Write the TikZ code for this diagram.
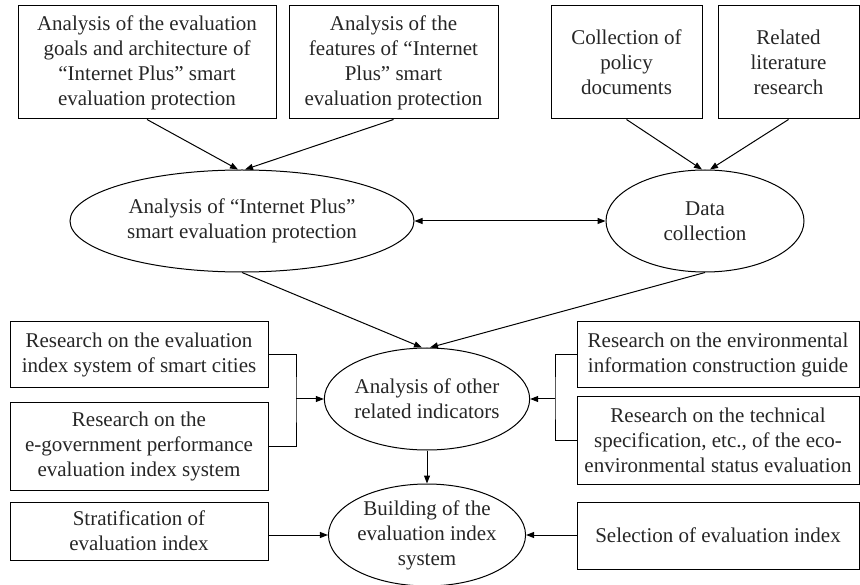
\documentclass[tikz,border=0pt]{standalone}
\usepackage{fontspec}
\setmainfont{Liberation Serif}
\usetikzlibrary{arrows.meta,shapes.geometric,calc}
\tikzset{
  base/.style={draw=black, line width=1pt, inner sep=0pt, align=center, text=black!85,
    font=\fontsize{21}{25}\selectfont},
  rbox/.style={base, rectangle},
  ebox/.style={base, ellipse},
  conn/.style={line width=1pt, draw=black},
  arr/.style={conn, -{Triangle[length=8pt,width=6pt]}},
  darr/.style={conn, {Triangle[length=8pt,width=6pt]}-{Triangle[length=8pt,width=6pt]}},
}
\begin{document}
\begin{tikzpicture}[x=1pt,y=-1pt]
\useasboundingbox (0,0) rectangle (860,585);
% top boxes
\node[rbox, minimum width=258pt, minimum height=113pt] (b1) at (147,62.5)
  {Analysis of the evaluation\\goals and architecture of\\“Internet Plus” smart\\evaluation protection};
\node[rbox, minimum width=209pt, minimum height=113pt] (b2) at (393.5,62.5)
  {Analysis of the\\features of “Internet\\Plus” smart\\evaluation protection};
\node[rbox, minimum width=151pt, minimum height=113pt] (b3) at (626.5,62.5)
  {Collection of\\policy\\documents};
\node[rbox, minimum width=141pt, minimum height=113pt] (b4) at (788.5,62.5)
  {Related\\literature\\research};
% ellipses
\node[ebox, minimum width=344pt, minimum height=102pt] (e1) at (242,221)
  {Analysis of “Internet Plus”\\smart evaluation protection};
\node[ebox, minimum width=198pt, minimum height=102pt] (e2) at (705,221)
  {Data\\collection};
\node[ebox, minimum width=196pt, minimum height=102pt] (e3) at (427,399)
  {Analysis of other\\related indicators};
\node[ebox, minimum width=196pt, minimum height=102pt] (e4) at (427,535)
  {Building of the\\evaluation index\\system};
% left boxes
\node[rbox, minimum width=258pt, minimum height=66pt] (l1) at (139,355)
  {Research on the evaluation\\index system of smart cities};
\node[rbox, minimum width=258pt, minimum height=87pt] (l2) at (139,446.5)
  {Research on the\\e-government performance\\evaluation index system};
\node[rbox, minimum width=258pt, minimum height=58pt] (l3) at (139,531)
  {Stratification of\\evaluation index};
% right boxes
\node[rbox, minimum width=282pt, minimum height=66pt] (r1) at (718,355)
  {Research on the environmental\\information construction guide};
\node[rbox, minimum width=282pt, minimum height=87pt] (r2) at (718,440.5)
  {Research on the technical\\specification, etc., of the eco-\\environmental status evaluation};
\node[rbox, minimum width=282pt, minimum height=67pt] (r3) at (718,535.5)
  {Selection of evaluation index};
% junction coordinates
\coordinate (jl) at (296,399);
\coordinate (jr) at (555,399);
% connectors
\draw[arr] (b1.south) -- ($(e1.north)+(-4,0)$);
\draw[arr] (b2.south) -- ($(e1.north)+(3,0)$);
\draw[arr] (b3.south) -- ($(e2.north)+(-3,0)$);
\draw[arr] (b4.south) -- ($(e2.north)+(5,0)$);
\draw[darr] (e1.east) -- (e2.west);
\draw[arr] (e1.south) -- ($(e3.north)+(-5,0)$);
\draw[arr] (e2.south) -- ($(e3.north)+(3,0)$);
\draw[conn] (l1.east) -| (jl) |- (l2.east);
\draw[arr] (jl) -- (e3.west);
\draw[conn] (r1.west) -| (jr) |- (r2.west);
\draw[arr] (jr) -- (e3.east);
\draw[arr] (e3.south) -- (e4.north);
\draw[arr] (l3.east |- e4.west) -- (e4.west);
\draw[arr] (r3.west |- e4.east) -- (e4.east);
\end{tikzpicture}
\end{document}
